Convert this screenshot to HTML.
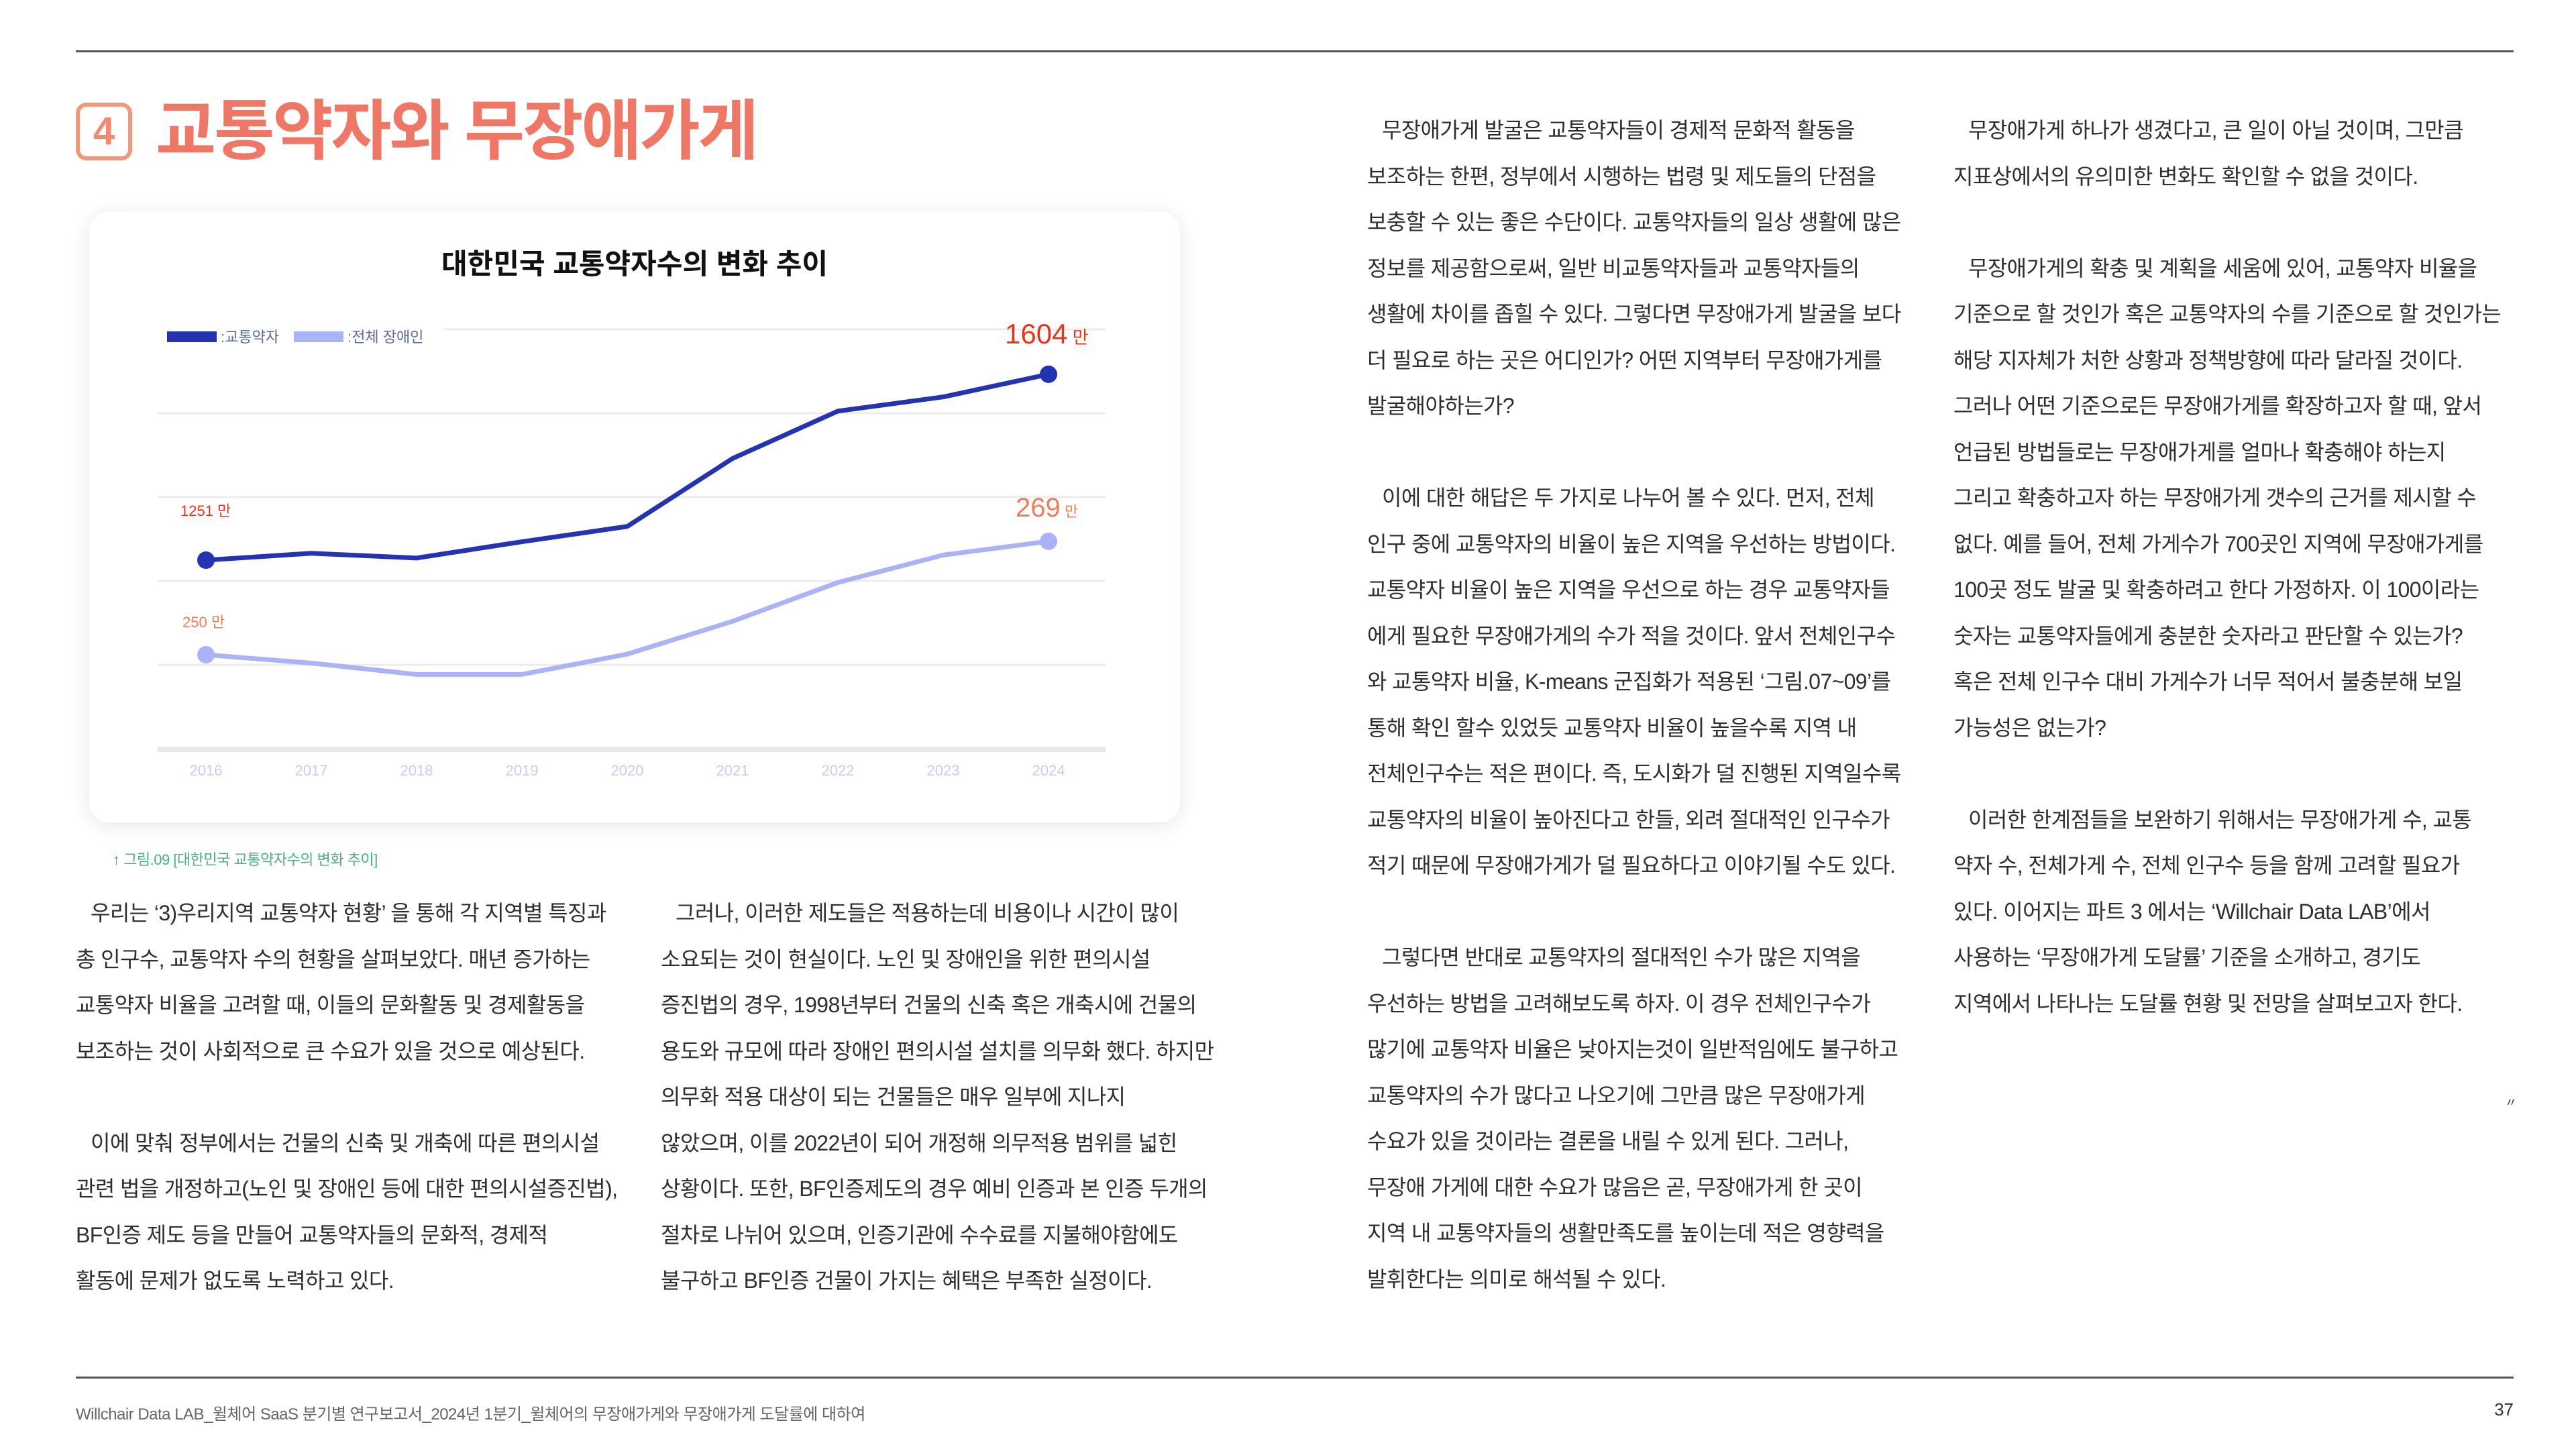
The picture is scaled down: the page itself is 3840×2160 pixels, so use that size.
<!DOCTYPE html>
<html><head><meta charset="utf-8">
<style>
html,body{margin:0;padding:0;background:#fff;}
body{width:3840px;height:2160px;position:relative;overflow:hidden;font-family:"Liberation Sans","Noto Sans CJK KR",sans-serif;}
.rule{position:absolute;left:113px;width:3634px;height:3px;background:#555;}
.col{position:absolute;color:#2e2e2e;font-size:32px;letter-spacing:-0.6px;}
.col div{height:68.5px;line-height:68.5px;white-space:nowrap;}
.ind{padding-left:22px;}
#card{position:absolute;left:133px;top:315px;width:1626px;height:911px;background:#fff;border-radius:30px;box-shadow:0 4px 30px rgba(0,0,0,0.10);}
</style></head><body>
<div class="rule" style="top:75px"></div>
<div class="rule" style="top:2052px"></div>

<div style="position:absolute;left:113px;top:153px;width:72px;height:74px;border:6px solid #f4967a;border-radius:16px;color:#f08b72;font-weight:bold;font-size:58px;line-height:74px;text-align:center;">4</div>
<div style="position:absolute;left:232px;top:135px;font-size:98px;font-weight:bold;color:#ef7766;letter-spacing:-3px;white-space:nowrap;line-height:120px;">교통약자와 무장애가게</div>

<div id="card"></div>
<svg id="chart" width="3840" height="2160" style="position:absolute;left:0;top:0;"></svg>

<div style="position:absolute;left:168px;top:1264px;font-size:22px;color:#4caf7d;white-space:nowrap;letter-spacing:-0.5px;">↑ 그림.09 [대한민국 교통약자수의 변화 추이]</div>

<div class="col" style="left:113px;top:1327px">
<div class="ind">우리는 ‘3)우리지역 교통약자 현황’ 을 통해 각 지역별 특징과</div>
<div>총 인구수, 교통약자 수의 현황을 살펴보았다. 매년 증가하는</div>
<div>교통약자 비율을 고려할 때, 이들의 문화활동 및 경제활동을</div>
<div>보조하는 것이 사회적으로 큰 수요가 있을 것으로 예상된다.</div>
<div></div>
<div class="ind">이에 맞춰 정부에서는 건물의 신축 및 개축에 따른 편의시설</div>
<div>관련 법을 개정하고(노인 및 장애인 등에 대한 편의시설증진법),</div>
<div>BF인증 제도 등을 만들어 교통약자들의 문화적, 경제적</div>
<div>활동에 문제가 없도록 노력하고 있다.</div>
</div>

<div class="col" style="left:985px;top:1327px">
<div class="ind">그러나, 이러한 제도들은 적용하는데 비용이나 시간이 많이</div>
<div>소요되는 것이 현실이다. 노인 및 장애인을 위한 편의시설</div>
<div>증진법의 경우, 1998년부터 건물의 신축 혹은 개축시에 건물의</div>
<div>용도와 규모에 따라 장애인 편의시설 설치를 의무화 했다. 하지만</div>
<div>의무화 적용 대상이 되는 건물들은 매우 일부에 지나지</div>
<div>않았으며, 이를 2022년이 되어 개정해 의무적용 범위를 넓힌</div>
<div>상황이다. 또한, BF인증제도의 경우 예비 인증과 본 인증 두개의</div>
<div>절차로 나뉘어 있으며, 인증기관에 수수료를 지불해야함에도</div>
<div>불구하고 BF인증 건물이 가지는 혜택은 부족한 실정이다.</div>
</div>

<div class="col" style="left:2038px;top:160px">
<div class="ind">무장애가게 발굴은 교통약자들이 경제적 문화적 활동을</div>
<div>보조하는 한편, 정부에서 시행하는 법령 및 제도들의 단점을</div>
<div>보충할 수 있는 좋은 수단이다. 교통약자들의 일상 생활에 많은</div>
<div>정보를 제공함으로써, 일반 비교통약자들과 교통약자들의</div>
<div>생활에 차이를 좁힐 수 있다. 그렇다면 무장애가게 발굴을 보다</div>
<div>더 필요로 하는 곳은 어디인가? 어떤 지역부터 무장애가게를</div>
<div>발굴해야하는가?</div>
<div></div>
<div class="ind">이에 대한 해답은 두 가지로 나누어 볼 수 있다. 먼저, 전체</div>
<div>인구 중에 교통약자의 비율이 높은 지역을 우선하는 방법이다.</div>
<div>교통약자 비율이 높은 지역을 우선으로 하는 경우 교통약자들</div>
<div>에게 필요한 무장애가게의 수가 적을 것이다. 앞서 전체인구수</div>
<div>와 교통약자 비율, K-means 군집화가 적용된 ‘그림.07~09’를</div>
<div>통해 확인 할수 있었듯 교통약자 비율이 높을수록 지역 내</div>
<div>전체인구수는 적은 편이다. 즉, 도시화가 덜 진행된 지역일수록</div>
<div>교통약자의 비율이 높아진다고 한들, 외려 절대적인 인구수가</div>
<div>적기 때문에 무장애가게가 덜 필요하다고 이야기될 수도 있다.</div>
<div></div>
<div class="ind">그렇다면 반대로 교통약자의 절대적인 수가 많은 지역을</div>
<div>우선하는 방법을 고려해보도록 하자. 이 경우 전체인구수가</div>
<div>많기에 교통약자 비율은 낮아지는것이 일반적임에도 불구하고</div>
<div>교통약자의 수가 많다고 나오기에 그만큼 많은 무장애가게</div>
<div>수요가 있을 것이라는 결론을 내릴 수 있게 된다. 그러나,</div>
<div>무장애 가게에 대한 수요가 많음은 곧, 무장애가게 한 곳이</div>
<div>지역 내 교통약자들의 생활만족도를 높이는데 적은 영향력을</div>
<div>발휘한다는 의미로 해석될 수 있다.</div>
</div>

<div class="col" style="left:2912px;top:160px">
<div class="ind">무장애가게 하나가 생겼다고, 큰 일이 아닐 것이며, 그만큼</div>
<div>지표상에서의 유의미한 변화도 확인할 수 없을 것이다.</div>
<div></div>
<div class="ind">무장애가게의 확충 및 계획을 세움에 있어, 교통약자 비율을</div>
<div>기준으로 할 것인가 혹은 교통약자의 수를 기준으로 할 것인가는</div>
<div>해당 지자체가 처한 상황과 정책방향에 따라 달라질 것이다.</div>
<div>그러나 어떤 기준으로든 무장애가게를 확장하고자 할 때, 앞서</div>
<div>언급된 방법들로는 무장애가게를 얼마나 확충해야 하는지</div>
<div>그리고 확충하고자 하는 무장애가게 갯수의 근거를 제시할 수</div>
<div>없다. 예를 들어, 전체 가게수가 700곳인 지역에 무장애가게를</div>
<div>100곳 정도 발굴 및 확충하려고 한다 가정하자. 이 100이라는</div>
<div>숫자는 교통약자들에게 충분한 숫자라고 판단할 수 있는가?</div>
<div>혹은 전체 인구수 대비 가게수가 너무 적어서 불충분해 보일</div>
<div>가능성은 없는가?</div>
<div></div>
<div class="ind">이러한 한계점들을 보완하기 위해서는 무장애가게 수, 교통</div>
<div>약자 수, 전체가게 수, 전체 인구수 등을 함께 고려할 필요가</div>
<div>있다. 이어지는 파트 3 에서는 ‘Willchair Data LAB’에서</div>
<div>사용하는 ‘무장애가게 도달률’ 기준을 소개하고, 경기도</div>
<div>지역에서 나타나는 도달률 현황 및 전망을 살펴보고자 한다.</div>
</div>
<div style="position:absolute;left:3734px;top:1630px;font-size:18px;color:#333;">〃</div>

<div style="position:absolute;left:113px;top:2088px;font-size:24px;color:#666;white-space:nowrap;letter-spacing:-0.5px;">Willchair Data LAB_윌체어 SaaS 분기별 연구보고서_2024년 1분기_윌체어의 무장애가게와 무장애가게 도달률에 대하여</div>
<div style="position:absolute;right:93px;top:2086px;font-size:26px;color:#333;">37</div>

<script>
const years = ['2016','2017','2018','2019','2020','2021','2022','2023','2024'];
const mobilityImpaired = [1251,1264,1255,1286,1315,1444,1534,1561,1604];
const disabled = [250,248.6,246.7,246.7,250.1,255.6,262.1,266.7,269];
const NS='http://www.w3.org/2000/svg';
const svg=document.getElementById('chart');
const x0=307, x1=1563;
function xPos(i){return x0+(x1-x0)*i/(years.length-1);}
function yBlue(v){return 835-(v-1251)*0.785;}
function yLight(v){return 976-(v-250)*8.9;}
function mk(tag,attrs){const e=document.createElementNS(NS,tag);for(const k in attrs)e.setAttribute(k,attrs[k]);svg.appendChild(e);return e;}
let t=mk('text',{x:946,y:408,'text-anchor':'middle','font-size':42,'font-weight':'bold',fill:'#111','font-family':'Liberation Sans, Noto Sans CJK KR, sans-serif'});
t.textContent='대한민국 교통약자수의 변화 추이';


[491,616,741,866,991].forEach((gy,i)=>{
  const g=mk('line',{x1:i===0?663:235,x2:1648,y1:gy,y2:gy,stroke:'#ececec','stroke-width':3});
  
  
});
const ax=mk('line',{x1:235,x2:1648,y1:1117,y2:1117,stroke:'#e6e6ec','stroke-width':8});


years.forEach((y,i)=>{
  const l=mk('text',{x:xPos(i),y:1156,'text-anchor':'middle','font-size':22,fill:'#c8ccef'});
  l.textContent=y;
  
  
});
function series(vals,yf,color,name){
  const pts=vals.map((v,i)=>xPos(i)+','+yf(v)).join(' ');
  const p=mk('polyline',{points:pts,fill:'none',stroke:color,'stroke-width':7,'stroke-linejoin':'round'});
  
  
  [0,vals.length-1].forEach(i=>{
    const c=mk('circle',{cx:xPos(i),cy:yf(vals[i]),r:13,fill:color});
    
    
  });
}
series(disabled,yLight,'#aab3f5','disabled');
series(mobilityImpaired,yBlue,'#2433b0','mobility');
function lab(x,y,txt,size,color,name){
  const e=mk('text',{x:x,y:y,'font-size':size,fill:color});
  e.innerHTML=txt;
  
  
}
lab(269,769,mobilityImpaired[0]+' 만',22,'#e8341c','start-label-mobility');
lab(272,935,disabled[0]+' 만',22,'#f07c5c','start-label-disabled');
lab(1498,512,mobilityImpaired[8]+'<tspan font-size="26"> 만</tspan>',42,'#e8341c','end-label-mobility');
lab(1514,770,disabled[8]+'<tspan font-size="22"> 만</tspan>',40,'#f07c5c','end-label-disabled');
let r=mk('rect',{x:249,y:494,width:74,height:16,fill:'#2433b0'});


lab(329,510,':교통약자',22,'#5a6a9a','legend-label-mobility');
r=mk('rect',{x:438,y:494,width:74,height:16,fill:'#aab3f5'});


lab(518,510,':전체 장애인',22,'#5a6a9a','legend-label-disabled');
</script>
</body></html>
